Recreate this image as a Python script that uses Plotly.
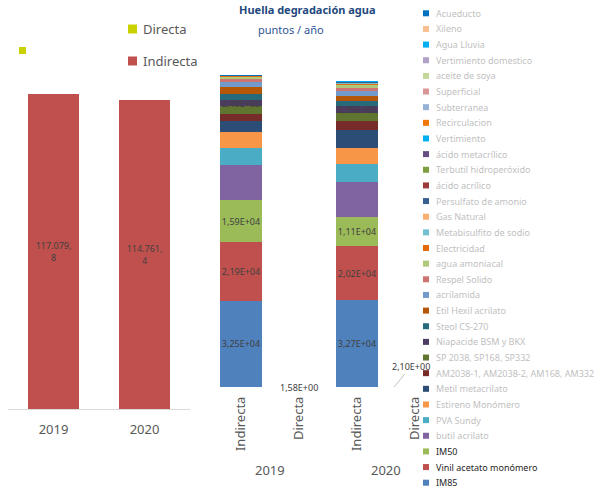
import plotly.graph_objects as go

W, H = 605, 489

# ---------------- data ----------------
years = ["2019", "2020"]
indirecta_total = [117079.8, 114761.4]
directa_total = [1.5751, 2.0952]

# stacked series, bottom -> top
stack_names = [
    "IM85", "Vinil acetato monómero", "IM50", "butil acrilato", "PVA Sundy",
    "Estireno Monómero", "Metil metacrilato", "AM2038-1, AM2038-2, AM168, AM332",
    "SP 2038, SP168, SP332", "Niapacide BSM y BKX", "Steol CS-270",
    "Etil Hexil acrilato", "acrilamida", "Respel Solido", "agua amoniacal",
    "Electricidad", "Metabisulfito de sodio", "Gas Natural", "Persulfato de amonio",
    "ácido acrílico", "Terbutil hidroperóxido", "ácido metacrílico", "Vertimiento",
    "Recirculacion", "Subterranea", "Superficial", "aceite de soya",
    "Vertimiento domestico", "Agua Lluvia", "Xileno", "Acueducto",
]
stack_2019 = [32500, 21900, 15900, 13200, 6400, 5900, 4300, 2500, 2860, 2400,
              2260, 2700, 2000, 900, 1000, 150, 60, 40, 30, 20, 15, 10, 5, 5,
              3, 2, 2, 1, 1, 1, 5]
stack_2020 = [32700, 20200, 11100, 13000, 7000, 6000, 6800, 3200, 3150, 2350,
              2000, 1750, 2000, 1400, 750, 750, 200, 150, 100, 60, 40, 25, 10, 8,
              5, 4, 3, 2, 2, 1, 1]
mid_categories = ["Indirecta", "Directa", "Indirecta", "Directa"]
directa_mid = [1.58, 2.10]
labelled_series = ["IM85", "Vinil acetato monómero", "IM50", "Niapacide BSM y BKX"]
dark_legend_series = ["IM50", "Vinil acetato monómero", "IM85"]

# ---------------- styles ----------------
stack_colors = [
    "#4F81BD", "#C0504D", "#9BBB59", "#8064A2", "#4BACC6",
    "#F79646", "#2C4D75", "#772C2A", "#5F7530", "#4D3B62", "#276A7C",
    "#B65708", "#729ACA", "#CD7371", "#AFC97A", "#E46C0A", "#72C0D2",
    "#FAB070", "#376092", "#9E3B38", "#7E9C40", "#664E83", "#00B0F0",
    "#F0780A", "#95B3D7", "#DA9694", "#C4D79B", "#B1A0C7", "#00B0F0",
    "#FABF8F", "#0070C0",
]
RED = "#C0504D"
GREEN = "#C9D200"
LABEL = "#404040"
AXIS_TXT = "#595959"
FONT = "Noto Sans"


def fx(px):
    return px / W


def fy(py):
    return 1 - py / H


def es_num(v):
    s = f"{v:,.1f}"
    return s.replace(",", "#").replace(".", ",").replace("#", ".")


def es_dec(v, n):
    return f"{v:.{n}f}".replace(".", ",")


def es_sci(v):
    return f"{v:.2E}".replace(".", ",")


fig = go.Figure()

# ---------------- left chart ----------------
fig.add_bar(
    x=years, y=indirecta_total, xaxis="x", yaxis="y", name="Indirecta",
    marker=dict(color=RED, line=dict(width=0)), width=0.55,
    text=[es_num(v).replace(",", ",<br>") for v in indirecta_total],
    textposition="inside", insidetextanchor="middle", textangle=0,
    constraintext="none", textfont=dict(size=9, color=LABEL, family=FONT),
    showlegend=False, hoverinfo="skip",
)
fig.add_bar(
    x=years, y=directa_total, xaxis="x", yaxis="y", name="Directa",
    marker=dict(color=GREEN, opacity=0, line=dict(width=0)), width=0.55,
    showlegend=False, hoverinfo="skip",
)

annotations = []
for yr, ind, d, ys in zip(years, indirecta_total, directa_total, [23, -1]):
    annotations.append(dict(
        x=yr, y=ind + d, xref="x", yref="y", text=es_dec(d, 4), showarrow=False,
        yanchor="middle", yshift=ys, font=dict(size=9, color=LABEL, family=FONT)))

# ---------------- middle stacked chart ----------------
for name, v19, v20, col in zip(stack_names, stack_2019, stack_2020, stack_colors):
    show = name in labelled_series
    fig.add_bar(
        x=[0, 2], y=[v19, v20], xaxis="x2", yaxis="y2", name=name,
        marker=dict(color=col, line=dict(width=0)), width=0.72,
        text=[es_sci(v19), es_sci(v20)] if show else None,
        textposition="inside" if show else "none", insidetextanchor="middle",
        textangle=0, constraintext="none",
        textfont=dict(size=9, color=LABEL, family=FONT),
        showlegend=False, hoverinfo="skip",
    )
fig.add_bar(
    x=[1, 3], y=directa_mid, xaxis="x2", yaxis="y2", name="Directa",
    marker=dict(color=GREEN, opacity=0, line=dict(width=0)), width=0.72,
    showlegend=False, hoverinfo="skip",
)
annotations.append(dict(
    x=1, y=0, xref="x2", yref="y2", text=es_sci(directa_mid[0]), showarrow=False,
    yanchor="middle", font=dict(size=9, color=LABEL, family=FONT)))
annotations.append(dict(
    x=3 - 0.36, y=0, xref="x2", yref="y2", text=es_sci(directa_mid[1]),
    showarrow=True, arrowhead=0, arrowwidth=0.7, arrowcolor="#A6A6A6",
    ax=17, ay=-21, font=dict(size=9, color=LABEL, family=FONT)))
for xv, yr in zip([0.5, 2.5], years):
    annotations.append(dict(
        x=xv, y=fy(470), xref="x2", yref="paper", text=yr, showarrow=False,
        yanchor="middle", font=dict(size=13, color=AXIS_TXT, family=FONT)))

# ---------------- titles ----------------
annotations.append(dict(
    x=fx(308), y=fy(9), xref="paper", yref="paper", showarrow=False,
    text="<b>Huella degradación agua</b>", yanchor="middle",
    font=dict(size=11, color="#1F497D", family=FONT)))
annotations.append(dict(
    x=fx(291), y=fy(29), xref="paper", yref="paper", showarrow=False,
    text="puntos / año", yanchor="middle",
    font=dict(size=11, color="#2F5496", family=FONT)))

shapes = []
# ---------------- left legend (manual) ----------------
for i, (nm, col) in enumerate([("Directa", GREEN), ("Indirecta", RED)]):
    cy = 29 + i * 32
    shapes.append(dict(type="rect", xref="paper", yref="paper",
                       x0=fx(128), x1=fx(137), y0=fy(cy - 4.5), y1=fy(cy + 4.5),
                       fillcolor=col, line=dict(width=0)))
    annotations.append(dict(
        x=fx(141), y=fy(cy), xref="paper", yref="paper", text=nm, showarrow=False,
        xanchor="left", yanchor="middle",
        font=dict(size=13, color=AXIS_TXT, family=FONT)))
# stray marker
shapes.append(dict(type="rect", xref="paper", yref="paper",
                   x0=fx(19), x1=fx(26), y0=fy(47), y1=fy(54),
                   fillcolor=GREEN, line=dict(width=0)))

# ---------------- right legend (manual) ----------------
leg_names = stack_names[::-1]
leg_colors = stack_colors[::-1]
step = (482.7 - 13.3) / (len(leg_names) - 1)
for i, (nm, col) in enumerate(zip(leg_names, leg_colors)):
    cy = 13.3 + i * step
    shapes.append(dict(type="rect", xref="paper", yref="paper",
                       x0=fx(423), x1=fx(429), y0=fy(cy - 3), y1=fy(cy + 3),
                       fillcolor=col, line=dict(width=0)))
    tc = "#262626" if nm in dark_legend_series else "#BFBFBF"
    annotations.append(dict(
        x=fx(434), y=fy(cy), xref="paper", yref="paper", text=nm, showarrow=False,
        xanchor="left", yanchor="middle", font=dict(size=9, color=tc, family=FONT)))

fig.update_layout(
    width=W, height=H, margin=dict(l=0, r=0, t=0, b=0),
    paper_bgcolor="white", plot_bgcolor="rgba(0,0,0,0)",
    barmode="stack", showlegend=False,
    font=dict(family=FONT, color=AXIS_TXT),
    xaxis=dict(domain=[fx(8), fx(190)], type="category", range=[-0.5, 1.5],
               showline=True, linecolor="#D9D9D9", linewidth=1, showgrid=False,
               ticks="", ticklabelstandoff=8, anchor="y", fixedrange=True,
               tickfont=dict(size=13, color=AXIS_TXT, family=FONT)),
    yaxis=dict(domain=[fy(409), fy(32.33)], range=[0, 140000], visible=False,
               anchor="x", fixedrange=True),
    xaxis2=dict(domain=[fx(212), fx(444)], range=[-0.5, 3.5],
                tickmode="array", tickvals=[0, 1, 2, 3], ticktext=mid_categories,
                tickangle=-90, showline=False, showgrid=False, zeroline=False,
                ticks="", ticklabelstandoff=6, anchor="y2", fixedrange=True,
                tickfont=dict(size=13, color=AXIS_TXT, family=FONT)),
    yaxis2=dict(domain=[fy(387), fy(41.2)], range=[0, 130000], visible=False,
                anchor="x2", fixedrange=True),
    annotations=annotations, shapes=shapes,
)

fig.write_html(
    "out.html",
    config={"displayModeBar": False},
    post_script="document.body.style.margin='0';"
                "document.documentElement.style.overflow='hidden';",
)
